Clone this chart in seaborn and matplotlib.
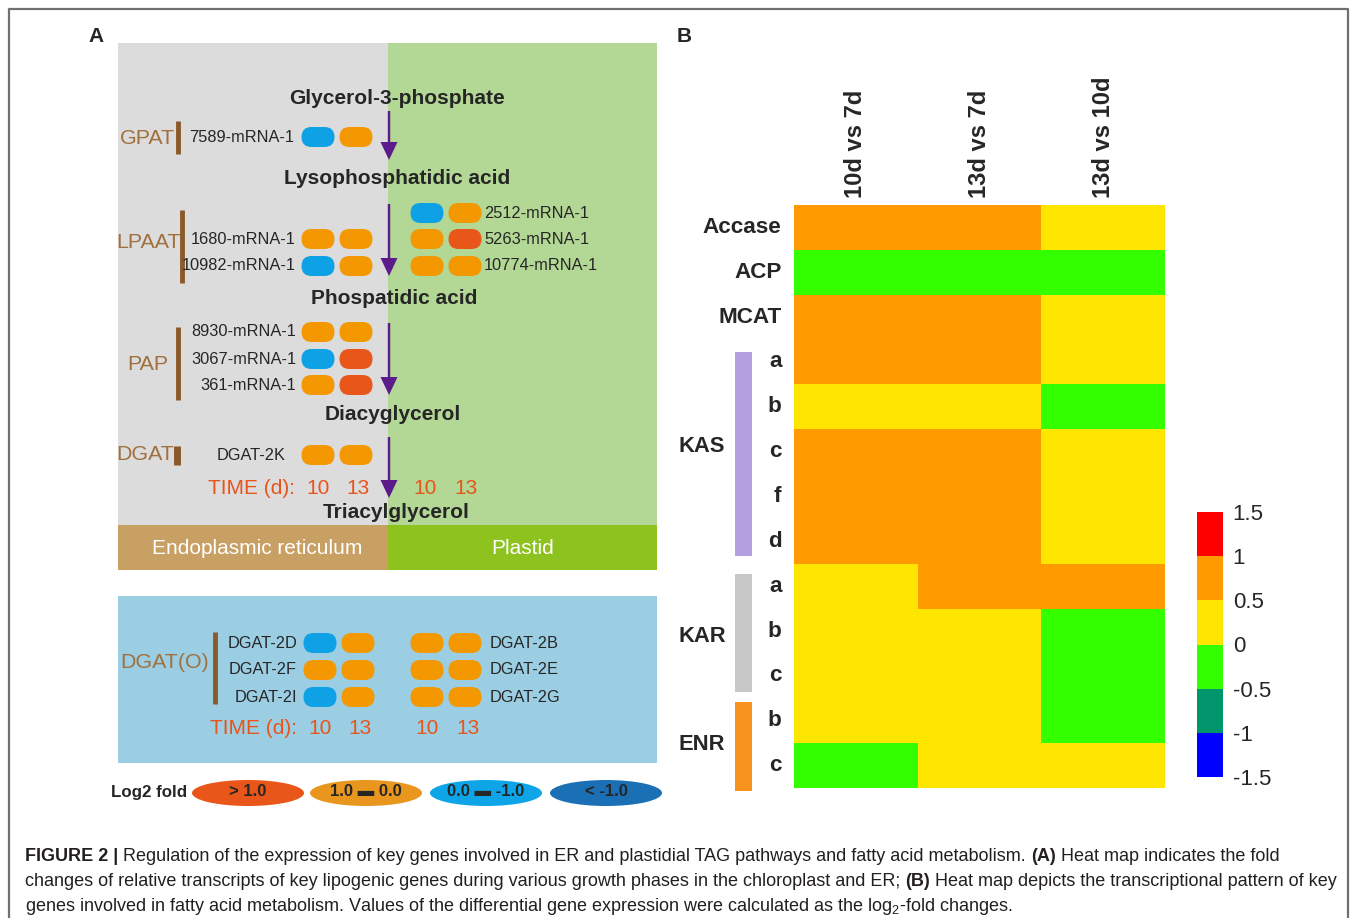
import matplotlib
matplotlib.use("Agg")
import matplotlib.pyplot as plt
from matplotlib.patches import FancyBboxPatch, Ellipse, Rectangle
from matplotlib.colors import ListedColormap
import pandas as pd
import seaborn as sns

# ---- panel A data: log2 fold class of each gene at day 10 / day 13 ----
time_points = ["10", "13"]
gpat_genes = ["7589-mRNA-1"]
gpat_fold = [["down", "up"]]
lpaat_er_genes = ["1680-mRNA-1", "10982-mRNA-1"]
lpaat_er_fold = [["up", "up"], ["down", "up"]]
lpaat_pl_genes = ["2512-mRNA-1", "5263-mRNA-1", "10774-mRNA-1"]
lpaat_pl_fold = [["down", "up"], ["up", "high"], ["up", "up"]]
pap_genes = ["8930-mRNA-1", "3067-mRNA-1", "361-mRNA-1"]
pap_fold = [["up", "up"], ["down", "high"], ["up", "high"]]
dgat_genes = ["DGAT-2K"]
dgat_fold = [["up", "up"]]
dgato_left_genes = ["DGAT-2D", "DGAT-2F", "DGAT-2I"]
dgato_left_fold = [["down", "up"], ["up", "up"], ["down", "up"]]
dgato_right_genes = ["DGAT-2B", "DGAT-2E", "DGAT-2G"]
dgato_right_fold = [["up", "up"], ["up", "up"], ["up", "up"]]
metabolites = ["Glycerol-3-phosphate", "Lysophosphatidic acid", "Phospatidic acid",
               "Diacyglycerol", "Triacylglycerol"]
legend_labels = ["> 1.0", "1.0 \u25AC 0.0", "0.0 \u25AC -1.0", "< -1.0"]

# ---- panel B data ----
hm_cols = ["10d vs 7d", "13d vs 7d", "13d vs 10d"]
hm_rows = ["Accase", "ACP", "MCAT", "a", "b", "c", "f", "d", "a", "b", "c", "b", "c"]
hm_values = [
    [0.75, 0.75, 0.25],
    [-0.25, -0.25, -0.25],
    [0.75, 0.75, 0.25],
    [0.75, 0.75, 0.25],
    [0.25, 0.25, -0.25],
    [0.75, 0.75, 0.25],
    [0.75, 0.75, 0.25],
    [0.75, 0.75, 0.25],
    [0.25, 0.75, 0.75],
    [0.25, 0.25, -0.25],
    [0.25, 0.25, -0.25],
    [0.25, 0.25, -0.25],
    [-0.25, 0.25, 0.25],
]
cbar_ticks = [-1.5, -1, -0.5, 0, 0.5, 1, 1.5]

pill_col = {"high": "#E9561A", "up": "#F39800", "down": "#0EA1E6", "low": "#1A6FB5"}
legend_cols = ["#E9561A", "#E8961E", "#0EA5E8", "#1A6FB5"]
hm_cmap = ListedColormap(["#0000FF", "#00956A", "#33FF00", "#FFE600", "#FF9A00", "#FF0000"])

sns.set_theme(style="white")
plt.rcParams["font.family"] = ["Liberation Sans", "DejaVu Sans"]
plt.rcParams["mathtext.fontset"] = "custom"
plt.rcParams["mathtext.rm"] = "Liberation Sans"
plt.rcParams["mathtext.default"] = "regular"

W, H = 1357, 918
fig = plt.figure(figsize=(W / 100, H / 100), dpi=100)
ax = fig.add_axes([0, 0, 1, 1], zorder=0)
ax.set_xlim(0, W)
ax.set_ylim(H, 0)
ax.axis("off")

BROWN_TXT = "#A0703F"
BROWN_BAR = "#8B5A2B"
ORANGE_TXT = "#E8541A"
ARROW = "#5C1B8B"

# frame
ax.plot([9, 9, 1348, 1348], [H, 9, 9, H], color="#707070", lw=1.6, solid_capstyle="butt")

ax.text(96, 36, "A", fontsize=15, fontweight="bold", ha="center", va="center")
ax.text(684, 36, "B", fontsize=15, fontweight="bold", ha="center", va="center")

# compartments
ax.add_patch(Rectangle((118, 43), 270, 482, color="#DCDCDC", lw=0))
ax.add_patch(Rectangle((388, 43), 269, 482, color="#B3D794", lw=0))
ax.add_patch(Rectangle((118, 525), 270, 45, color="#C8A064", lw=0))
ax.add_patch(Rectangle((388, 525), 269, 45, color="#8DC21F", lw=0))
ax.text(257, 548, "Endoplasmic reticulum", color="white", fontsize=15, ha="center", va="center")
ax.text(523, 548, "Plastid", color="white", fontsize=15, ha="center", va="center")

# metabolites and arrows
for name, (mx, my) in zip(metabolites, [(397, 99), (397, 179), (394, 299), (393, 415), (396, 512)]):
    ax.text(mx, my, name, fontsize=15, fontweight="bold", ha="center", va="center")
for y0, y1 in [(111, 160), (204, 276), (323, 395), (437, 498)]:
    ax.arrow(389, y0, 0, y1 - y0, width=2.4, head_width=17, head_length=18,
             length_includes_head=True, color=ARROW, lw=0)


def pills(xs, y, fold):
    for cx, f in zip(xs, fold):
        ax.add_patch(FancyBboxPatch((cx - 16.5, y - 10), 33, 20,
                                    boxstyle="round,pad=0,rounding_size=10",
                                    fc=pill_col[f], ec="none"))


def gene_rows(genes, folds, ys, pill_x, label_x, ha):
    for g, f, y in zip(genes, folds, ys):
        pills(pill_x, y, f)
        ax.text(label_x, y, g, fontsize=11.8, ha=ha, va="center")


def enzyme(name, x, y, bar_x, bar_y0, bar_y1, lw=3.5):
    ax.text(x, y, name, fontsize=15.4, color=BROWN_TXT, ha="center", va="center")
    ax.plot([bar_x, bar_x], [bar_y0, bar_y1], color=BROWN_BAR, lw=lw, solid_capstyle="butt")


ER_X = [318, 356]
PL_X = [427, 465]

enzyme("GPAT", 147, 138, 178, 121, 154)
gene_rows(gpat_genes, gpat_fold, [137], ER_X, 294, "right")

enzyme("LPAAT", 148, 243, 182, 210, 283)
gene_rows(lpaat_er_genes, lpaat_er_fold, [239, 266], ER_X, 296, "right")
gene_rows(lpaat_pl_genes, lpaat_pl_fold, [213, 239, 266], PL_X, 484, "left")

enzyme("PAP", 148, 365, 178, 327, 400)
gene_rows(pap_genes, pap_fold, [332, 359, 385], ER_X, 296, "right")

enzyme("DGAT", 145, 455, 177, 446, 465, lw=5)
gene_rows(dgat_genes, dgat_fold, [455], ER_X, 251, "center")

ax.text(295, 488, "TIME (d):", fontsize=15, color=ORANGE_TXT, ha="right", va="center")
for t, x in zip(time_points * 2, [318, 358, 425, 466]):
    ax.text(x, 488, t, fontsize=15, color=ORANGE_TXT, ha="center", va="center")

# DGAT(O) box
ax.add_patch(Rectangle((118, 596), 539, 167, color="#9BCEE2", lw=0))
enzyme("DGAT(O)", 165, 663, 215, 632, 704)
gene_rows(dgato_left_genes, dgato_left_fold, [643, 670, 697], [320, 358], 297, "right")
gene_rows(dgato_right_genes, dgato_right_fold, [643, 670, 697], [427, 465], 490, "left")
ax.text(297, 729, "TIME (d):", fontsize=15, color=ORANGE_TXT, ha="right", va="center")
for t, x in zip(time_points * 2, [320, 360, 427, 468]):
    ax.text(x, 729, t, fontsize=15, color=ORANGE_TXT, ha="center", va="center")

# fold legend
ax.text(149, 793, "Log2 fold", fontsize=12.2, fontweight="bold", ha="center", va="center")
for lab, c, x in zip(legend_labels, legend_cols, [248, 366, 486, 606]):
    ax.add_patch(Ellipse((x, 793), 112, 26, fc=c, ec="none"))
    ax.text(x, 792, lab, fontsize=12, fontweight="bold", ha="center", va="center")

# ---- panel B heatmap ----
hx0, hx1, hy0, hy1 = 794, 1165, 205, 788
hax = fig.add_axes([hx0 / W, 1 - hy1 / H, (hx1 - hx0) / W, (hy1 - hy0) / H], zorder=1)
cax = fig.add_axes([1197 / W, 1 - 777 / H, 26 / W, 265 / H], zorder=1)
df = pd.DataFrame(hm_values, columns=hm_cols)
sns.heatmap(df, ax=hax, cmap=hm_cmap, vmin=-1.5, vmax=1.5, cbar_ax=cax,
            xticklabels=hm_cols, yticklabels=hm_rows, linewidths=0)
hax.xaxis.tick_top()
hax.set_xticklabels(hm_cols, rotation=90, fontsize=17.1, fontweight="bold", va="bottom")
hax.set_yticklabels(hm_rows, rotation=0, fontsize=16.2, fontweight="bold", va="center")
hax.tick_params(axis="both", length=0)
hax.tick_params(axis="x", pad=5)
hax.tick_params(axis="y", pad=9)

cbar = hax.collections[0].colorbar
cbar.set_ticks(cbar_ticks)
cbar.set_ticklabels(["-1.5", "-1", "-0.5", "0", "0.5", "1", "1.5"])
cbar.outline.set_visible(False)
cax.tick_params(length=0, labelsize=16, pad=7)

# group bars for heatmap rows
for name, col, (y0, y1), ly in [("KAS", "#B4A0E0", (352, 556), 446),
                                ("KAR", "#C8C8C8", (574, 692), 636),
                                ("ENR", "#F7931E", (702, 791), 745)]:
    ax.add_patch(Rectangle((735, y0), 17, y1 - y0, color=col, lw=0))
    ax.text(702, ly, name, fontsize=15.8, fontweight="bold", ha="center", va="center")

# ---- caption ----
renderer = fig.canvas.get_renderer()
CAP = "#231F20"


def runs(x, y, parts, size=13.0):
    for txt, wt in parts:
        t = ax.text(x, y, txt, fontsize=size, fontweight=wt, color=CAP, ha="left", va="baseline")
        x += t.get_window_extent(renderer=renderer).width


runs(25, 861, [("FIGURE 2 |", "bold"),
               (" Regulation of the expression of key genes involved in ER and plastidial TAG pathways and fatty acid metabolism. ", "normal"),
               ("(A)", "bold"), (" Heat map indicates the fold", "normal")])
runs(25, 886, [("changes of relative transcripts of key lipogenic genes during various growth phases in the chloroplast and ER; ", "normal"),
               ("(B)", "bold"), (" Heat map depicts the transcriptional pattern of key", "normal")])
runs(25, 911, [("genes involved in fatty acid metabolism. Values of the differential gene expression were calculated as the log$_{2}$-fold changes.", "normal")])

fig.savefig("out.png", dpi=100)
